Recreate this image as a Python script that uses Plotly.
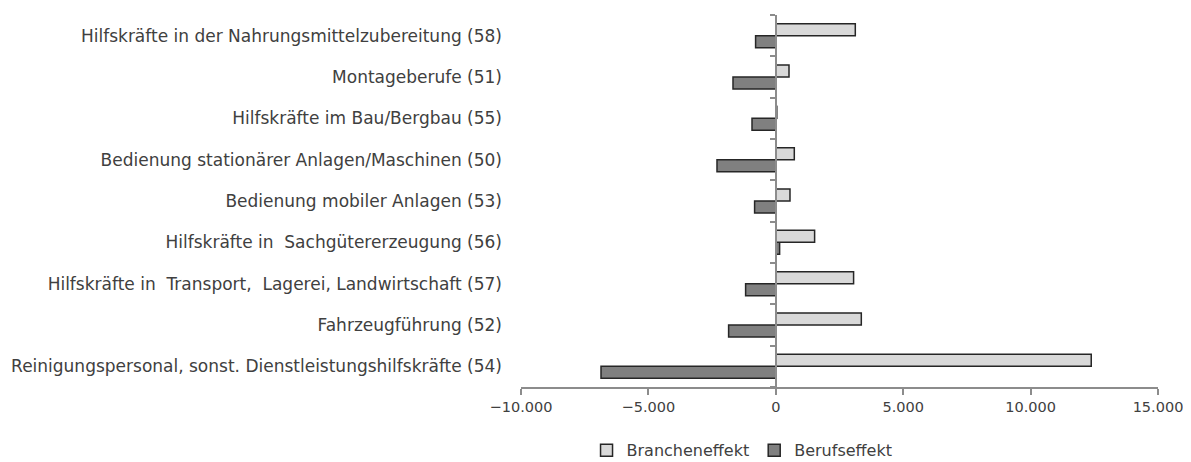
import plotly.graph_objects as go

categories = [
    "Reinigungspersonal, sonst. Dienstleistungshilfskräfte (54)",
    "Fahrzeugführung (52)",
    "Hilfskräfte in  Transport,  Lagerei, Landwirtschaft (57)",
    "Hilfskräfte in  Sachgütererzeugung (56)",
    "Bedienung mobiler Anlagen (53)",
    "Bedienung stationärer Anlagen/Maschinen (50)",
    "Hilfskräfte im Bau/Bergbau (55)",
    "Montageberufe (51)",
    "Hilfskräfte in der Nahrungsmittelzubereitung (58)",
]
branche = [12380, 3356, 3053, 1523, 557, 726, 40, 518, 3120]
beruf = [-6860, -1852, -1185, 150, -832, -2308, -934, -1680, -793]

x_tickvals = [-10000, -5000, 0, 5000, 10000, 15000]

font_family = "DejaVu Sans"
text_color = "#404040"
axis_color = "#8c8c8c"
fs = 17

fig = go.Figure()
fig.add_trace(go.Bar(
    y=categories, x=beruf, orientation="h", name="Berufseffekt",
    marker=dict(color="#808080", line=dict(color="#262626", width=1.5)),
    legendrank=2,
))
fig.add_trace(go.Bar(
    y=categories, x=branche, orientation="h", name="Brancheneffekt",
    marker=dict(color="#d9d9d9", line=dict(color="#262626", width=1.5)),
    legendrank=1,
))
# invisible helper trace so the zero-positioned category axis shows its ticks
fig.add_trace(go.Scatter(
    y=categories, x=[0] * len(categories), yaxis="y2", mode="markers",
    marker=dict(opacity=0), showlegend=False, hoverinfo="skip",
))

fig.update_layout(
    width=1191, height=462,
    margin=dict(l=513, r=41, t=7, b=83, autoexpand=False),
    paper_bgcolor="white", plot_bgcolor="white",
    font=dict(family=font_family, size=fs, color=text_color),
    barmode="group", bargap=0.42, bargroupgap=0,
    separators=",.",
    xaxis=dict(
        range=[-10000, 15000], tickvals=x_tickvals, tickformat=",d",
        showgrid=False, zeroline=False, showline=True, linecolor=axis_color,
        linewidth=1.5, ticks="outside", ticklen=6, tickcolor=axis_color,
        tickwidth=1.5, tickfont=dict(size=14.5, color=text_color),
        automargin=False,
    ),
    yaxis=dict(
        type="category", categoryorder="array", categoryarray=categories,
        range=[-0.5, len(categories) - 0.5],
        showgrid=False, zeroline=False, showline=False, ticks="",
        ticklabelstandoff=18, automargin=False,
        tickfont=dict(size=fs, color=text_color),
    ),
    yaxis2=dict(
        type="category", categoryorder="array", categoryarray=categories,
        overlaying="y", matches="y", anchor="free", position=0.4,
        showgrid=False, zeroline=False, showline=True, linecolor=axis_color,
        linewidth=1.5, ticks="outside", tickson="boundaries", ticklen=5,
        tickcolor=axis_color, tickwidth=1.5, showticklabels=False,
        automargin=False,
    ),
    legend=dict(
        orientation="h", x=0.347, xanchor="center", y=-0.17, yanchor="middle",
        xref="paper", font=dict(size=16, color=text_color),
        itemwidth=30, tracegroupgap=0,
    ),
    showlegend=True,
)

fig.write_html("out.html")
